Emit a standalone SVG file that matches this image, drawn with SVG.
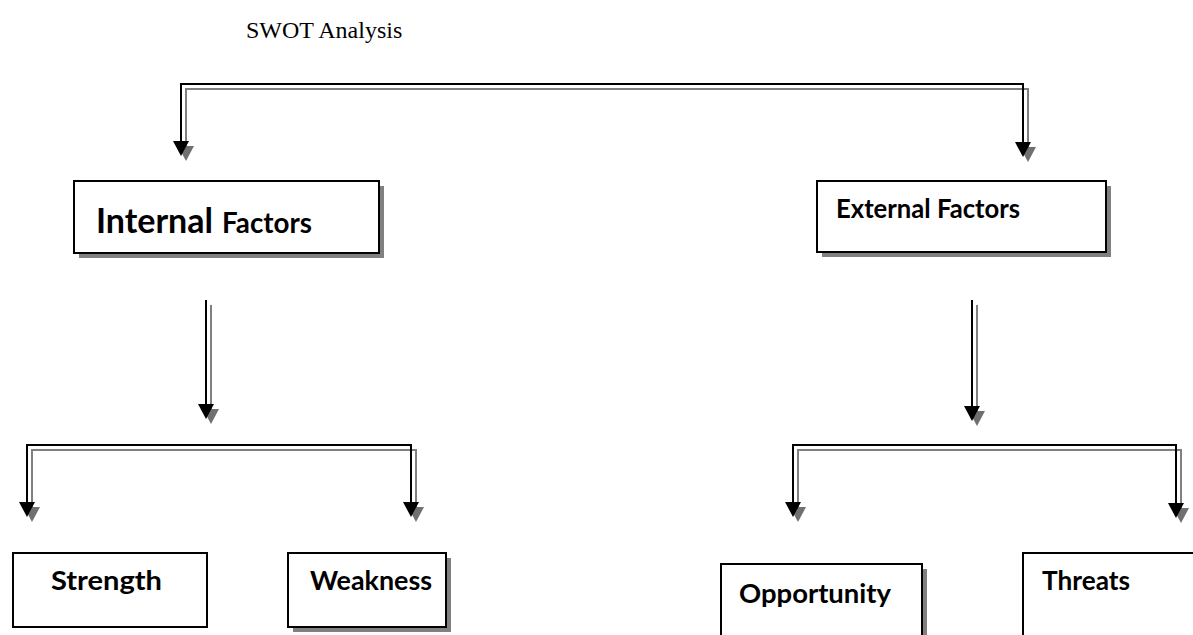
<svg xmlns="http://www.w3.org/2000/svg" width="1193" height="635" viewBox="0 0 1193 635">
<style>
.bg{fill:#ffffff}
.box{fill:#ffffff;stroke:#000000;stroke-width:2}
.shadow{fill:#808080;stroke:none}
.ln{fill:none;stroke:#000000;stroke-width:2}
.lns{fill:none;stroke:#808080;stroke-width:2}
.ah{fill:#000000}
.ahs{fill:#707070}
.lbl{font-family:Lato,"Liberation Sans",sans-serif;font-weight:bold;font-size:27px;fill:#000000}
.big{font-size:34px}
.mid{font-size:28px}
.title{font-family:"Liberation Serif","Times New Roman",serif;font-size:24px;fill:#000000}
</style>
<rect class="bg" x="0" y="0" width="1193" height="635"/>
<g id="title">
<text class="title" x="246" y="38">SWOT Analysis</text>
</g>
<g id="connectors">
<g transform="translate(5,5)">
<path class="lns" d="M181,143 V84 H1023 V143"/>
<polygon class="ahs" points="173,141 189,141 181,156"/>
<polygon class="ahs" points="1015,142 1031,142 1023,157"/>
<path class="lns" d="M206,300 V406"/>
<polygon class="ahs" points="198,404 214,404 206,419"/>
<path class="lns" d="M972,300 V408"/>
<polygon class="ahs" points="964,406 980,406 972,421"/>
<path class="lns" d="M27,504 V445 H411 V504"/>
<polygon class="ahs" points="19,502 35,502 27,517"/>
<polygon class="ahs" points="403,502 419,502 411,517"/>
<path class="lns" d="M793,504 V445 H1176 V504"/>
<polygon class="ahs" points="785,502 801,502 793,517"/>
<polygon class="ahs" points="1168,503 1184,503 1176,518"/>
</g>
<path class="ln" d="M181,143 V84 H1023 V143"/>
<polygon class="ah" points="173,141 189,141 181,156"/>
<polygon class="ah" points="1015,142 1031,142 1023,157"/>
<path class="ln" d="M206,300 V406"/>
<polygon class="ah" points="198,404 214,404 206,419"/>
<path class="ln" d="M972,300 V408"/>
<polygon class="ah" points="964,406 980,406 972,421"/>
<path class="ln" d="M27,504 V445 H411 V504"/>
<polygon class="ah" points="19,502 35,502 27,517"/>
<polygon class="ah" points="403,502 419,502 411,517"/>
<path class="ln" d="M793,504 V445 H1176 V504"/>
<polygon class="ah" points="785,502 801,502 793,517"/>
<polygon class="ah" points="1168,503 1184,503 1176,518"/>
</g>
<g id="internal">
<rect class="shadow" x="79" y="186" width="305" height="72"/>
<rect class="box" x="74" y="181" width="305" height="72"/>
<text class="lbl big" x="96" y="233" textLength="117" lengthAdjust="spacingAndGlyphs">Internal</text>
<text class="lbl mid" x="222" y="233" textLength="90" lengthAdjust="spacingAndGlyphs">Factors</text>
</g>
<g id="external">
<rect class="shadow" x="822" y="186" width="289" height="71"/>
<rect class="box" x="817" y="181" width="289" height="71"/>
<text class="lbl" x="836" y="218" textLength="184" lengthAdjust="spacingAndGlyphs">External Factors</text>
</g>
<g id="strength">
<rect class="box" x="13" y="553" width="194" height="74"/>
<text class="lbl" x="51" y="590" textLength="111" lengthAdjust="spacingAndGlyphs">Strength</text>
</g>
<g id="weakness">
<rect class="shadow" x="293" y="558" width="158" height="74"/>
<rect class="box" x="288" y="553" width="158" height="74"/>
<text class="lbl" x="310" y="590" textLength="122" lengthAdjust="spacingAndGlyphs">Weakness</text>
</g>
<g id="opportunity">
<rect class="shadow" x="726" y="569" width="201" height="80"/>
<rect class="box" x="721" y="564" width="201" height="80"/>
<text class="lbl" x="739" y="603" textLength="152" lengthAdjust="spacingAndGlyphs">Opportunity</text>
</g>
<g id="threats">
<rect class="box" x="1023" y="553" width="180" height="90"/>
<text class="lbl" x="1042" y="590" textLength="88" lengthAdjust="spacingAndGlyphs">Threats</text>
</g>
</svg>
